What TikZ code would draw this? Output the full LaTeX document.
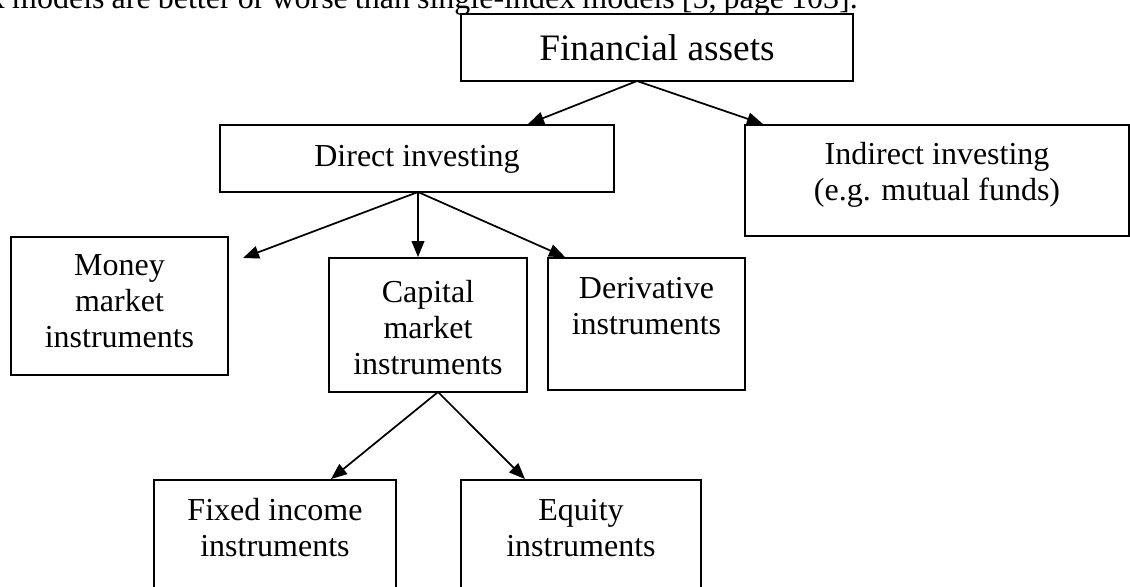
\documentclass[tikz,border=0pt]{standalone}
\usepackage{fontspec}
\setmainfont{Liberation Serif}
\usetikzlibrary{arrows.meta}
\tikzset{
  pbox/.style 2 args={draw, line width=1.4pt, rectangle, inner sep=0pt,
    minimum width=#1*0.75pt, minimum height=#2*0.75pt},
  txt/.style={inner sep=0pt, align=center, font=\fontsize{24}{27}\selectfont},
  bigtxt/.style={inner sep=0pt, align=center, font=\fontsize{28}{32}\selectfont},
  arr/.style={line width=1.3pt, -{Triangle[length=12pt,width=9.5pt]}}
}
\begin{document}
\begin{tikzpicture}[x=0.75pt,y=-0.75pt]
\useasboundingbox (0,0) rectangle (1130,586);
\clip (0,0) rectangle (1130,586);

% previous text line (cut off at the top)
\node[txt, anchor=base east] (prevline) at (858,8) {\spaceskip=5.3pt x models are better or worse than single-index models [5, page 103].};

% boxes
\node[pbox={392}{67}]  (fin) at (657,47.5) {};
\node[pbox={394}{67}]  (dir) at (417,158.5) {};
\node[pbox={384}{111}] (ind) at (937,180.5) {};
\node[pbox={217}{138}] (mon) at (119.5,306) {};
\node[pbox={198}{134}] (cap) at (428,325) {};
\node[pbox={197}{132}] (der) at (646.5,324) {};
\node[pbox={242}{150}] (fix) at (275,555) {};
\node[pbox={240}{150}] (equ) at (581,555) {};

% texts (anchor = baseline of the last line)
\node[bigtxt, anchor=base] (fint) at (657,60) {Financial assets};
\node[txt, anchor=base] (dirt) at (417,166) {Direct investing};
\node[txt, anchor=base] (indt) at (937,200) {Indirect investing\\(e.g. mutual funds)};
\node[txt, anchor=base] (mont) at (119.5,347) {Money\\market\\instruments};
\node[txt, anchor=base] (capt) at (428,374) {Capital\\market\\instruments};
\node[txt, anchor=base] (dert) at (646.5,334) {Derivative\\instruments};
\node[txt, anchor=base] (fixt) at (275,556) {Fixed income\\instruments};
\node[txt, anchor=base] (equt) at (581,556) {Equity\\instruments};

% connector origins
\coordinate (finout) at (637,81);
\coordinate (dirout) at (418,192);
\coordinate (capout) at (438,392);
\coordinate (monin) at (243,258);

% arrows
\draw[arr] (finout) -- (528,0 |- dir.north);
\draw[arr] (finout) -- (763,0 |- ind.north);
\draw[arr] (dirout) -- (monin);
\draw[arr] (dirout) -- (418,0 |- cap.north);
\draw[arr] (dirout) -- (565,0 |- der.north);
\draw[arr] (capout) -- (331,0 |- fix.north);
\draw[arr] (capout) -- (525,0 |- equ.north);
\end{tikzpicture}
\end{document}
